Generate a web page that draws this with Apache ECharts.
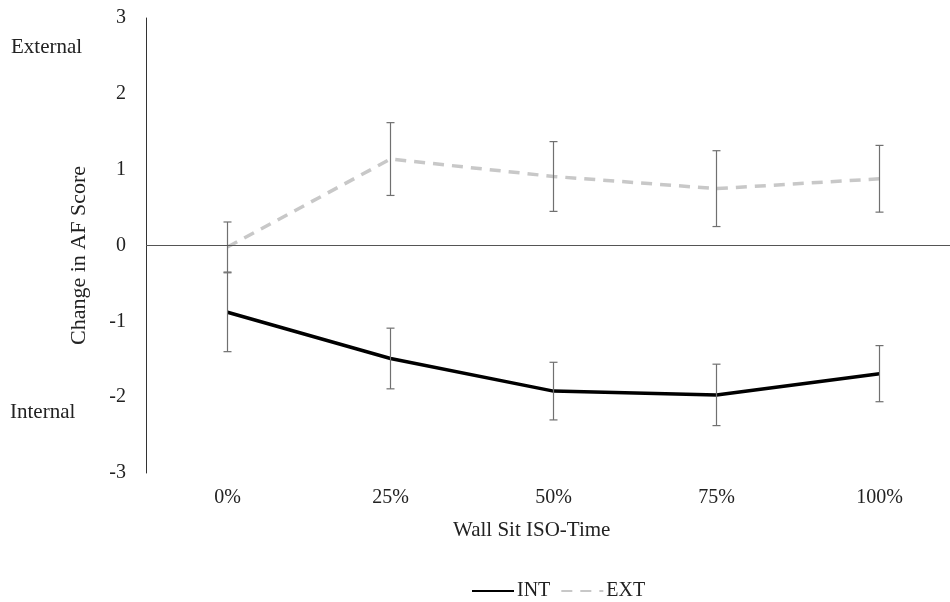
<!DOCTYPE html>
<html><head><meta charset="utf-8">
<script src="https://cdn.jsdelivr.net/npm/echarts@6/dist/echarts.min.js"></script>
<style>html,body{margin:0;padding:0;background:#fff}#c{width:950px;height:602px}</style>
</head><body><div id="c"></div>
<script>
var categories = ['0%', '25%', '50%', '75%', '100%'];
var intMean = [-0.88, -1.49, -1.92, -1.97, -1.69];
var intErr = [0.52, 0.40, 0.38, 0.405, 0.37];
var extMean = [-0.02, 1.14, 0.91, 0.75, 0.88];
var extErr = [0.33, 0.48, 0.46, 0.50, 0.44];
var yTicks = [-3, -2, -1, 0, 1, 2, 3];

var FONT = 'Liberation Serif';
var FS = 20;
function errData(m, e) { return m.map(function (v, i) { return [i, v - e[i], v + e[i]]; }); }
function errRender(params, api) {
  var x = api.value(0);
  var lo = api.coord([x, api.value(1)]);
  var hi = api.coord([x, api.value(2)]);
  var w = 4;
  var st = { stroke: '#707070', lineWidth: 1.2 };
  return { type: 'group', children: [
    { type: 'line', shape: { x1: lo[0], y1: lo[1], x2: hi[0], y2: hi[1] }, style: st },
    { type: 'line', shape: { x1: lo[0] - w, y1: lo[1], x2: lo[0] + w, y2: lo[1] }, style: st },
    { type: 'line', shape: { x1: hi[0] - w, y1: hi[1], x2: hi[0] + w, y2: hi[1] }, style: st }
  ]};
}
var chart = echarts.init(document.getElementById('c'));
chart.setOption({
  animation: false,
  textStyle: { fontFamily: FONT },
  grid: { left: 146, width: 815, top: 18, bottom: 129, containLabel: false, outerBoundsMode: 'none' },
  xAxis: {
    type: 'category', data: categories, boundaryGap: true,
    axisLine: { show: false }, axisTick: { show: false },
    axisLabel: { color: '#222', fontSize: FS, fontFamily: FONT, margin: 15 },
    splitLine: { show: false }
  },
  yAxis: {
    type: 'value', min: yTicks[0], max: yTicks[yTicks.length - 1], interval: 1,
    axisLine: { show: true, lineStyle: { color: '#333', width: 1 } },
    axisTick: { show: false },
    axisLabel: { color: '#222', fontSize: FS, fontFamily: FONT, margin: 20 },
    splitLine: { show: false },
    name: 'Change in AF Score', nameLocation: 'middle', nameGap: 56,
    nameTextStyle: { color: '#222', fontSize: 22, fontFamily: FONT, padding: [0, 20, 0, 0] }
  },
  legend: {
    top: 576, left: 466, itemWidth: 42, itemHeight: 16, itemGap: 10,
    itemStyle: { opacity: 0, borderWidth: 0 },
    textStyle: { color: '#222', fontSize: FS, fontFamily: FONT, padding: [0, 0, 0, -2] },
    data: [{ name: 'INT' }, { name: 'EXT' }]
  },
  graphic: [
    { type: 'text', left: 11, top: 37, style: { text: 'External', font: '21px "Liberation Serif"', fill: '#222' } },
    { type: 'text', left: 10, top: 402, style: { text: 'Internal', font: '21px "Liberation Serif"', fill: '#222' } },
    { type: 'text', left: 453, top: 520, style: { text: 'Wall Sit ISO-Time', font: '21px "Liberation Serif"', fill: '#222' } }
  ],
  series: [
    {
      name: 'INT', type: 'line', data: intMean, symbol: 'none',
      lineStyle: { color: '#000', width: 3.5 }, itemStyle: { color: '#000' }, z: 3,
      markLine: { silent: true, symbol: 'none', label: { show: false },
        lineStyle: { color: '#555', width: 1.2, type: 'solid' },
        data: [{ yAxis: 0 }] }
    },
    {
      name: 'EXT', type: 'line', data: extMean, symbol: 'none',
      lineStyle: { color: '#c8c8c8', width: 3.5, type: [11, 8] }, itemStyle: { color: '#c8c8c8' }, z: 3
    },
    { name: 'INT err', type: 'custom', renderItem: errRender, data: errData(intMean, intErr), z: 4, silent: true },
    { name: 'EXT err', type: 'custom', renderItem: errRender, data: errData(extMean, extErr), z: 4, silent: true }
  ]
});
</script></body></html>
